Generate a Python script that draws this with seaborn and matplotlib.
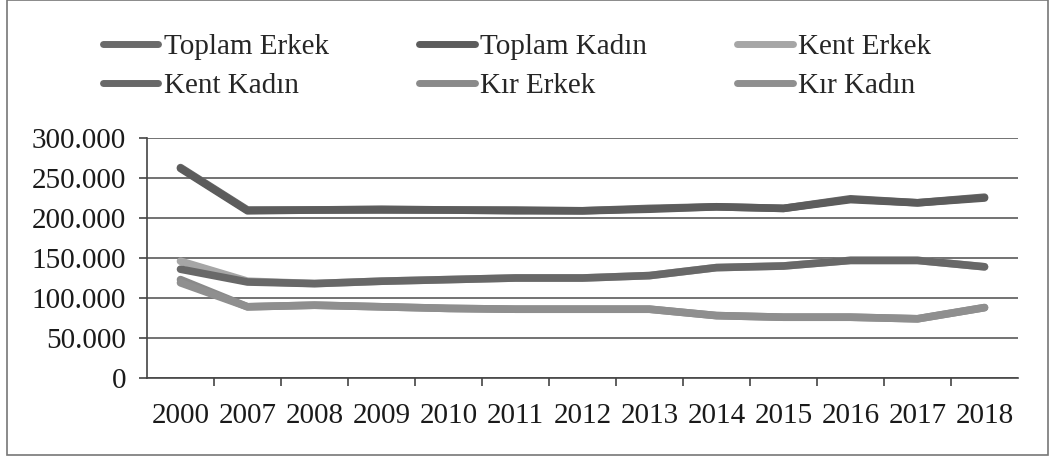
import numpy as np
import pandas as pd
import matplotlib
matplotlib.use("Agg")
import matplotlib.pyplot as plt
from matplotlib.ticker import FuncFormatter, FixedLocator
from matplotlib.lines import Line2D
import matplotlib.patches as mpatches
import seaborn as sns

years = ['2000', '2007', '2008', '2009', '2010', '2011', '2012', '2013', '2014', '2015', '2016', '2017', '2018']
toplam_erkek = [263000, 210000, 210000, 211000, 210000, 210000, 209000, 212000, 214000, 212000, 224000, 219000, 226000]
toplam_kadin = [262000, 209000, 210000, 210000, 210000, 209000, 209000, 211000, 214000, 212000, 223000, 219000, 225000]
kent_erkek = [146000, 121000, 118000, 121000, 123000, 125000, 125000, 128000, 138000, 140000, 147000, 147000, 139000]
kent_kadin = [136000, 120000, 118000, 121000, 123000, 125000, 125000, 128000, 138000, 140000, 147000, 147000, 139000]
kir_erkek = [123000, 89000, 91000, 89000, 87000, 86000, 86000, 86000, 78000, 76000, 76000, 74000, 88000]
kir_kadin = [119000, 89000, 91000, 89000, 87000, 86000, 86000, 86000, 78000, 76000, 76000, 74000, 88000]

series_names = ['Toplam Erkek', 'Toplam Kadın', 'Kent Erkek', 'Kent Kadın', 'Kır Erkek', 'Kır Kadın']
series_vals = [toplam_erkek, toplam_kadin, kent_erkek, kent_kadin, kir_erkek, kir_kadin]
colors = ['#6a6a6a', '#5c5c5c', '#a6a6a6', '#686868', '#8a8a8a', '#8f8f8f']

df = pd.concat([pd.DataFrame({'Yıl': years, 'Değer': v, 'Seri': n})
                for n, v in zip(series_names, series_vals)], ignore_index=True)

sns.set_theme(style='white')
plt.rcParams['font.family'] = ['Liberation Serif', 'DejaVu Serif']

fig = plt.figure(figsize=(10.54, 4.61), dpi=100)
ax = fig.add_axes([147/1054, 1-378/461, (1018-147)/1054, (378-138)/461])

palette = dict(zip(series_names, colors))
sns.lineplot(data=df, x='Yıl', y='Değer', hue='Seri', hue_order=series_names,
             palette=palette, linewidth=5.5, ax=ax, legend=False, sort=False)

ax.set_xlim(-0.5, len(years) - 0.5)
ax.set_ylim(0, 300000)
ax.set_yticks(np.arange(0, 300001, 50000))
ax.yaxis.set_major_formatter(FuncFormatter(lambda v, p: f"{int(v):,}".replace(',', '.')))
ax.set_xticks(range(len(years)))
ax.set_xticklabels(years)
ax.xaxis.set_minor_locator(FixedLocator(np.arange(0.5, len(years) - 0.5, 1.0)))
ax.tick_params(axis='x', which='major', length=0, pad=18, labelsize=21, colors='#1a1a1a')
ax.tick_params(axis='x', which='minor', length=6, width=1.2, color='#444444', bottom=True)
ax.tick_params(axis='y', which='major', length=6, width=1.2, color='#444444', pad=9,
               labelsize=21, labelcolor='#1a1a1a', left=True)
ax.set_xlabel('')
ax.set_ylabel('')
ax.grid(axis='y', color='#5a5a5a', linewidth=1.2)
ax.grid(axis='x', visible=False)
for s in ['top', 'right']:
    ax.spines[s].set_visible(False)
for s in ['left', 'bottom']:
    ax.spines[s].set_color('#444444')
    ax.spines[s].set_linewidth(1.2)

handles = [Line2D([0], [0], color=c, linewidth=5) for c in colors]
order = [0, 3, 1, 4, 2, 5]
fig.legend([handles[i] for i in order], [series_names[i] for i in order],
           ncol=3, loc='upper left', bbox_to_anchor=(103/1054, 1-34/461),
           frameon=False, fontsize=21, handlelength=1.9, handletextpad=0.18,
           columnspacing=3.1, labelspacing=0.42, borderpad=0, borderaxespad=0)

fig.patches.append(mpatches.Rectangle((7/1054, 6/461), (1048-7)/1054, (461-6)/461,
                                      transform=fig.transFigure, fill=False,
                                      edgecolor='#777777', linewidth=1.2))

fig.savefig('out.png', dpi=100, facecolor='white')
